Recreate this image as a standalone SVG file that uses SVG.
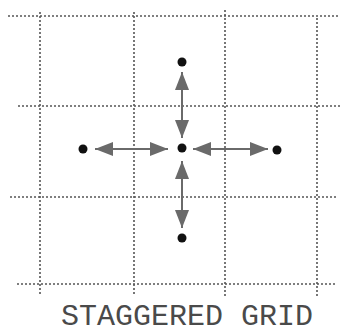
<svg xmlns="http://www.w3.org/2000/svg" width="342" height="333" viewBox="0 0 342 333">
<defs>
<style>
.grid line{stroke:#555;stroke-width:1.6;stroke-dasharray:2 2;fill:none}
.conn line{stroke:#6a6a6a;stroke-width:2}
.dot{fill:#111}
.lbl{font-family:"Liberation Mono","Courier New",monospace;font-size:30px;fill:#4a4a4a}
</style>
<marker id="ah" viewBox="0 0 18 14" refX="18" refY="7" markerWidth="18" markerHeight="14" markerUnits="userSpaceOnUse" orient="auto-start-reverse">
<path d="M0,0 L18,7 L0,14 Z" fill="#6a6a6a"/>
</marker>
</defs>
<rect width="342" height="333" fill="#fff"/>
<g id="grid" class="grid">
<line x1="40" y1="12" x2="40" y2="295"/>
<line x1="134" y1="12" x2="134" y2="295"/>
<line x1="225" y1="10" x2="225" y2="298"/>
<line x1="317" y1="18" x2="317" y2="296"/>
<line x1="8" y1="16" x2="338" y2="16"/>
<line x1="18" y1="106" x2="342" y2="106"/>
<line x1="10" y1="197" x2="336" y2="197"/>
<line x1="17" y1="284" x2="337" y2="284"/>
</g>
<g id="connectors" class="conn">
<line x1="95" y1="149" x2="168" y2="149" marker-start="url(#ah)" marker-end="url(#ah)"/>
<line x1="193" y1="149" x2="268" y2="149" marker-start="url(#ah)" marker-end="url(#ah)"/>
<line x1="182" y1="72" x2="182" y2="138" marker-start="url(#ah)" marker-end="url(#ah)"/>
<line x1="182" y1="161" x2="182" y2="228" marker-start="url(#ah)" marker-end="url(#ah)"/>
</g>
<g id="n-center"><circle class="dot" cx="182" cy="148" r="4.5"/></g>
<g id="n-top"><circle class="dot" cx="182" cy="62" r="4.5"/></g>
<g id="n-bottom"><circle class="dot" cx="182" cy="238" r="4.5"/></g>
<g id="n-left"><circle class="dot" cx="83" cy="149" r="4.5"/></g>
<g id="n-right"><circle class="dot" cx="277" cy="150" r="4.5"/></g>
<text class="lbl" x="61" y="325">STAGGERED GRID</text>
</svg>
